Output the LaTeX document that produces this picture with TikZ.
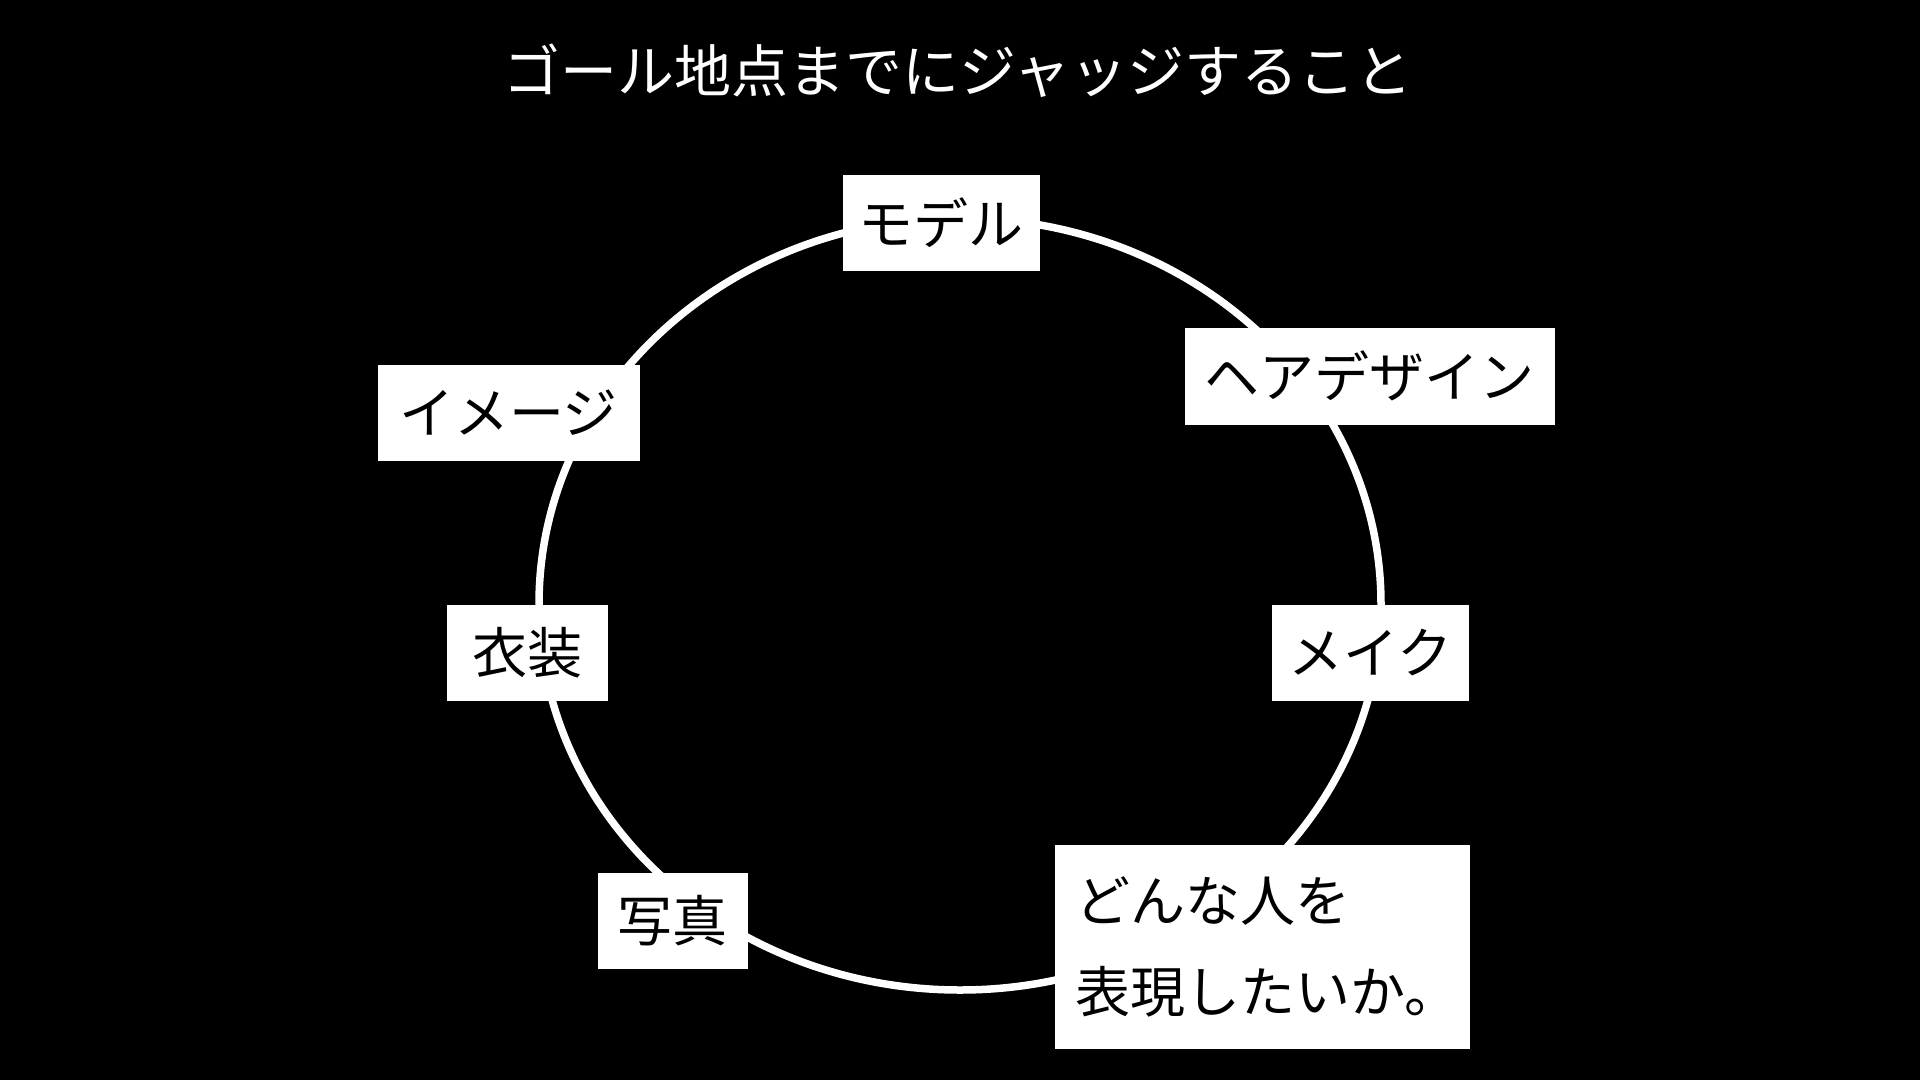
\documentclass[tikz,border=0pt]{standalone}
\usepackage{fontspec}
\setmainfont{Noto Sans CJK JP}
\begin{document}
\begin{tikzpicture}[x=1pt,y=-1pt,
  lbl/.style={fill=white,draw=white,line width=0.8pt,inner sep=0pt,text=black,
    font=\fontsize{55}{66}\selectfont,minimum height=95},
  ring/.style={draw=white,line width=7.5pt}]
  \useasboundingbox[fill=black] (0,0) rectangle (1920,1080);
  \draw[ring] (960,604) ellipse [x radius=421, y radius=386];
  \node[text=white,font=\fontsize{57}{68}\selectfont] (title) at (958,71) {ゴール地点までにジャッジすること};
  \node[lbl,minimum width=196] (model) at (941,222.5) {モデル};
  \node[lbl,minimum width=261] (image) at (508.5,412.5) {イメージ};
  \node[lbl,minimum width=369,minimum height=96] (hair) at (1369.5,376) {ヘアデザイン};
  \node[lbl,minimum width=160] (costume) at (527,652.5) {衣装};
  \node[lbl,minimum width=196] (makeup) at (1370,652.5) {メイク};
  \node[lbl,minimum width=149] (photo) at (672.5,920.5) {写真};
  \node[lbl,minimum width=414,minimum height=203,text width=385,align=left,
    font=\fontsize{55}{91}\selectfont] (goal) at (1262,946.5)
    {\hspace*{6pt}どんな人を\\\hspace*{6pt}表現したいか。};
\end{tikzpicture}
\end{document}
